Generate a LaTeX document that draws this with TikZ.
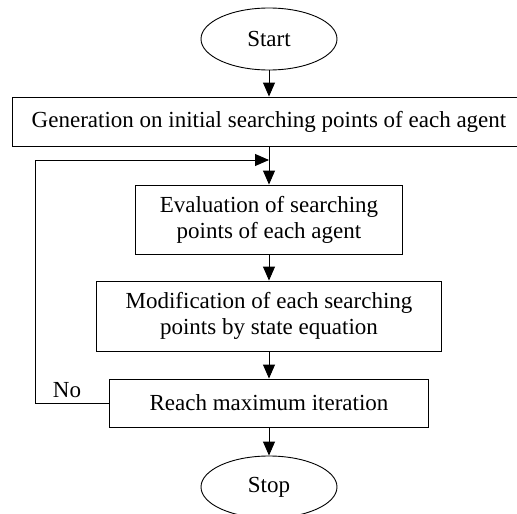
\documentclass[tikz,border=0pt]{standalone}
\usepackage{fontspec}
\setmainfont{Liberation Serif}
\usetikzlibrary{shapes,calc,arrows.meta}

\begin{document}
\begin{tikzpicture}[x=1pt,y=-1pt,
	every node/.style={font=\fontsize{23}{26}\selectfont},
	box/.style={draw,line width=0.9pt,inner sep=0pt,align=center},
	term/.style={draw,ellipse,line width=0.9pt,minimum width=136pt,minimum height=62pt,inner sep=0pt},
	flow/.style={line width=0.9pt,-{Triangle[length=14pt,width=12pt]}}]
	      \useasboundingbox (0,0) rectangle (517,514);
	      % Coordinates
	      \coordinate (L) at (35,160);
	      \coordinate (J) at (269,160);
	      % Steps
	      \node[term] (start) at (269,39) {Start};
	      \node[box,minimum width=514pt,minimum height=49pt] (gen) at (269,121.5) {Generation on initial searching points of each agent};
	      \node[box,minimum width=267pt,minimum height=69pt] (eval) at (269,219.5) {Evaluation of searching\\points of each agent};
	      \node[box,minimum width=345pt,minimum height=70pt] (mod) at (269,316) {Modification of each searching\\points by state equation};
	      \node[box,minimum width=319pt,minimum height=48pt] (reach) at (269,403) {Reach maximum iteration};
	      \node[term] (stop) at (269,487) {Stop};
	      \node (no) at (67,390) {No};
	      % Connectors
	      \draw[flow] (start) -- (gen);
	      \draw[flow] (gen) -- (eval);
	      \draw[flow] (eval) -- (mod);
	      \draw[flow] (mod) -- (reach);
	      \draw[flow] (reach) -- (stop);
	      \draw[flow] (reach.west) -- (reach.west -| L) -- (L) -- (J);
      \end{tikzpicture}
\end{document}
